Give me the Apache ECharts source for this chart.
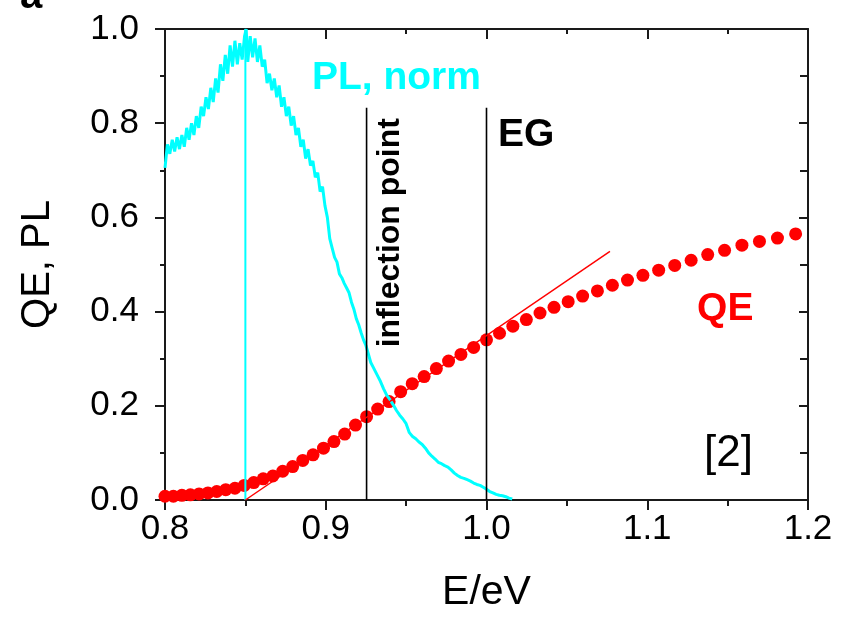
<!DOCTYPE html>
<html><head><meta charset="utf-8">
<script src="https://cdn.jsdelivr.net/npm/echarts@6/dist/echarts.min.js"></script>
<style>html,body{margin:0;padding:0;background:#fff}#c{width:851px;height:618px}</style>
</head><body><div id="c"></div>
<script>
const xTickLabels = ['0.8', '0.9', '1.0', '1.1', '1.2'];
const yTickLabels = ['0.0', '0.2', '0.4', '0.6', '0.8', '1.0'];
const xTitle = 'E/eV';
const yTitle = 'QE, PL';

const qeEnergy = [0.8000,0.8052,0.8105,0.8158,0.8212,0.8267,0.8322,0.8378,0.8435,0.8493,0.8552,0.8611,0.8671,0.8732,0.8794,0.8857,0.8921,0.8986,0.9051,0.9118,0.9185,0.9254,0.9323,0.9394,0.9466,0.9538,0.9612,0.9688,0.9764,0.9841,0.9920,1.0000,1.0081,1.0164,1.0248,1.0333,1.0420,1.0508,1.0598,1.0690,1.0783,1.0877,1.0973,1.1071,1.1171,1.1273,1.1376,1.1481,1.1589,1.1698,1.1810,1.1923];
const qeValues = [0.008,0.008,0.010,0.011,0.013,0.015,0.018,0.022,0.025,0.031,0.037,0.045,0.051,0.061,0.071,0.084,0.096,0.110,0.124,0.140,0.159,0.177,0.193,0.209,0.230,0.247,0.262,0.279,0.295,0.309,0.324,0.340,0.354,0.369,0.383,0.397,0.409,0.421,0.433,0.444,0.456,0.467,0.477,0.488,0.498,0.509,0.521,0.530,0.541,0.549,0.556,0.565];

const plEnergy = [0.8000,0.8015,0.8030,0.8045,0.8060,0.8075,0.8090,0.8105,0.8120,0.8135,0.8150,0.8165,0.8180,0.8195,0.8210,0.8225,0.8240,0.8255,0.8270,0.8285,0.8300,0.8315,0.8330,0.8345,0.8360,0.8375,0.8390,0.8405,0.8420,0.8435,0.8450,0.8465,0.8480,0.8495,0.8505,0.8515,0.8530,0.8545,0.8560,0.8575,0.8590,0.8605,0.8620,0.8635,0.8650,0.8665,0.8680,0.8695,0.8710,0.8725,0.8740,0.8755,0.8770,0.8785,0.8800,0.8815,0.8830,0.8845,0.8860,0.8875,0.8890,0.8905,0.8920,0.8935,0.8950,0.8965,0.8980,0.8995,0.9010,0.9025,0.9040,0.9055,0.9070,0.9085,0.9100,0.9115,0.9130,0.9145,0.9160,0.9175,0.9190,0.9205,0.9220,0.9235,0.9250,0.9265,0.9280,0.9295,0.9310,0.9325,0.9340,0.9360,0.9380,0.9400,0.9420,0.9440,0.9460,0.9480,0.9500,0.9520,0.9540,0.9560,0.9580,0.9600,0.9620,0.9640,0.9660,0.9680,0.9700,0.9720,0.9740,0.9760,0.9780,0.9800,0.9820,0.9840,0.9860,0.9880,0.9900,0.9920,0.9940,0.9960,0.9980,1.0000,1.0020,1.0040,1.0060,1.0080,1.0100,1.0120,1.0140,1.0160];
const plValues = [0.705,0.755,0.735,0.765,0.740,0.770,0.745,0.775,0.750,0.790,
0.765,0.800,0.775,0.815,0.790,0.835,0.815,0.855,0.830,0.875,
0.845,0.895,0.865,0.925,0.890,0.945,0.905,0.965,0.920,0.975,
0.925,0.970,0.935,0.985,1.000,0.930,0.985,0.940,0.980,0.930,
0.965,0.920,0.935,0.885,0.905,0.870,0.895,0.855,0.880,0.835,
0.855,0.815,0.835,0.795,0.815,0.775,0.790,0.750,0.765,0.725,
0.745,0.710,0.720,0.685,0.695,0.655,0.665,0.625,0.600,0.555,
0.535,0.515,0.505,0.480,0.472,0.460,0.450,0.440,0.420,0.405,
0.385,0.372,0.355,0.340,0.328,0.310,0.292,0.282,0.272,0.262,
0.252,0.236,0.222,0.213,0.202,0.190,0.180,0.172,0.162,0.143,
0.135,0.130,0.123,0.118,0.110,0.100,0.093,0.087,0.080,0.077,
0.073,0.070,0.064,0.057,0.052,0.048,0.046,0.043,0.040,0.036,
0.033,0.031,0.027,0.023,0.018,0.015,0.012,0.010,0.009,0.007,
0.004,0.002];

const plPeakLineE = [0.85, 0.85];
const plPeakLineV = [0, 1.0];
const inflectionLineE = [0.9254, 0.9254];
const inflectionLineV = [0, 0.833];
const egLineE = [1.0, 1.0];
const egLineV = [0, 0.833];
const tangentE = [0.85, 1.0768];
const tangentV = [0, 0.528];

// annotation texts and their anchors in data units
const annoTexts = ['PL, norm', 'EG', 'QE', '[2]', 'inflection point'];
const annoE = [0.8914, 1.0072, 1.1310, 1.1353, 0.9400];
const annoV = [0.8945, 0.774, 0.405, 0.099, 0.5675];

const zip = (a, b) => a.map((v, i) => [v, b[i]]);
const FONT = 'Liberation Sans, Arial, sans-serif';
const CYAN = '#00FFFF', RED = '#FF0000', AX = '#1a1a1a';

const chart = echarts.init(document.getElementById('c'), null, {renderer: 'canvas'});

const baseX = {type: 'value', min: 0.8, max: 1.2, interval: 0.1, splitLine: {show: false}};
const baseY = {type: 'value', min: 0, max: 1.0, interval: 0.2, splitLine: {show: false}};

chart.setOption({
  animation: false,
  backgroundColor: '#fff',
  textStyle: {fontFamily: FONT},
  grid: {left: 165, right: 43, top: 29, bottom: 115, containLabel: false},
  xAxis: [
    Object.assign({}, baseX, {
      position: 'bottom',
      name: xTitle, nameLocation: 'middle', nameGap: 72,
      nameTextStyle: {fontSize: 41, color: '#000', fontFamily: FONT},
      axisLine: {show: true, onZero: false, lineStyle: {color: AX, width: 2}},
      axisTick: {show: true, inside: false, length: 10, lineStyle: {color: AX, width: 2}},
      minorTick: {show: true, splitNumber: 2, length: 6, lineStyle: {color: AX, width: 2}},
      axisLabel: {show: true, fontSize: 35, color: '#000', margin: 12, fontFamily: FONT,
        formatter: (v) => xTickLabels[Math.round((v - 0.8) * 10)]}
    }),
    Object.assign({}, baseX, {
      position: 'top',
      axisLine: {show: true, onZero: false, lineStyle: {color: AX, width: 2}},
      axisTick: {show: true, inside: true, length: 10, lineStyle: {color: AX, width: 2}},
      minorTick: {show: true, splitNumber: 2, length: 5, lineStyle: {color: AX, width: 2}},
      axisLabel: {show: false}
    })
  ],
  yAxis: [
    Object.assign({}, baseY, {
      position: 'left',
      name: yTitle, nameLocation: 'middle', nameGap: 107,
      nameTextStyle: {fontSize: 40, color: '#000', fontFamily: FONT},
      axisLine: {show: true, onZero: false, lineStyle: {color: AX, width: 2}},
      axisTick: {show: true, inside: false, length: 10, lineStyle: {color: AX, width: 2}},
      minorTick: {show: true, splitNumber: 2, length: 5, lineStyle: {color: AX, width: 2}},
      axisLabel: {show: true, fontSize: 35, color: '#000', margin: 26, fontFamily: FONT,
        formatter: (v) => yTickLabels[Math.round(v * 5)]}
    }),
    Object.assign({}, baseY, {
      position: 'right',
      axisLine: {show: true, onZero: false, lineStyle: {color: AX, width: 2}},
      axisTick: {show: true, inside: true, length: 9, lineStyle: {color: AX, width: 2}},
      minorTick: {show: true, splitNumber: 2, length: 8, lineStyle: {color: AX, width: 2}},
      axisLabel: {show: false}
    })
  ],
  series: [
    {type: 'scatter', name: 'QE', data: zip(qeEnergy, qeValues), symbol: 'circle', symbolSize: 13,
      itemStyle: {color: RED, opacity: 1}, z: 2},
    {type: 'line', name: 'PL', data: zip(plEnergy, plValues), showSymbol: false, symbol: 'none',
      lineStyle: {color: CYAN, width: 3}, z: 3},
    {type: 'line', data: zip(plPeakLineE, plPeakLineV), symbol: 'none',
      lineStyle: {color: CYAN, width: 2}, z: 3},
    {type: 'line', data: zip(inflectionLineE, inflectionLineV), symbol: 'none',
      lineStyle: {color: '#000', width: 1.6}, z: 4},
    {type: 'line', data: zip(egLineE, egLineV), symbol: 'none',
      lineStyle: {color: '#000', width: 1.6}, z: 4},
    {type: 'line', data: zip(tangentE, tangentV), symbol: 'none',
      lineStyle: {color: RED, width: 1.5}, z: 4}
  ]
});

const px = (i) => chart.convertToPixel({xAxisIndex: 0, yAxisIndex: 0}, [annoE[i], annoV[i]]);
const p = annoTexts.map((t, i) => px(i));
const txt = (i, style, extra) => Object.assign({
  type: 'text', x: p[i][0], y: p[i][1], z: 100,
  style: Object.assign({text: annoTexts[i], fontFamily: FONT, verticalAlign: 'middle'}, style)
}, extra || {});

chart.setOption({
  graphic: [
    txt(0, {fill: CYAN, fontSize: 39, fontWeight: 'bold', align: 'left'}),
    txt(1, {fill: '#000', fontSize: 39, fontWeight: 'bold', align: 'left'}),
    txt(2, {fill: RED, fontSize: 39, fontWeight: 'bold', align: 'left'}),
    txt(3, {fill: '#000', fontSize: 44, align: 'left'}),
    txt(4, {fill: '#000', fontSize: 32, fontWeight: 'bold', align: 'center'}, {rotation: Math.PI / 2}),
    {type: 'text', x: 20, y: -3, z: 100,
      style: {text: 'a', fontFamily: FONT, fontSize: 40, fontWeight: 'bold', fill: '#000', verticalAlign: 'middle', align: 'left'}}
  ]
});
</script>
</body></html>
